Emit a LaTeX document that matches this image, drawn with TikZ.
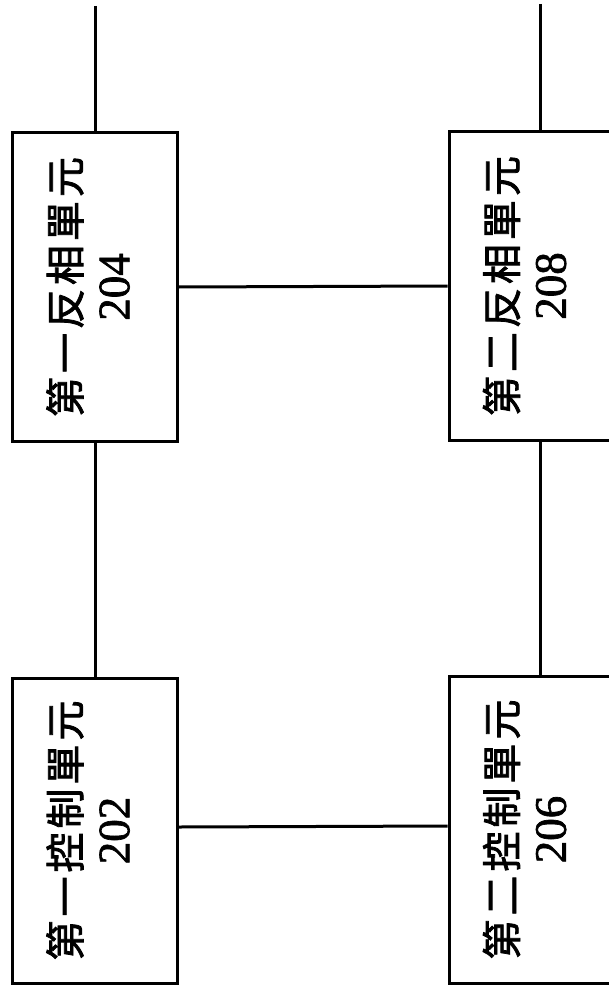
\documentclass[tikz,border=0pt]{standalone}
\usepackage{fontspec}
\usepackage{graphicx}
\newfontfamily\numfont{Liberation Serif}[FakeBold=1.5]
\newfontfamily\cjk{Noto Sans CJK TC}[FakeBold=2]
\newcommand{\ck}{\kern4pt}
\newcommand{\unitlbl}[2]{\rotatebox{90}{\fontsize{40}{49}\selectfont\begin{tabular}{@{}c@{}}{\cjk #1}\\{\numfont\fontsize{45}{49}\selectfont #2}\end{tabular}}}
\tikzset{
  unitbox/.style={draw, line width=3pt, minimum width=165pt, inner sep=0pt},
  wire/.style={line width=3pt}
}
\begin{document}
\begin{tikzpicture}[x=1pt,y=-1pt]
\useasboundingbox (0,0) rectangle (609,992);
\clip (0,0) rectangle (609,992);
\node[unitbox, minimum height=308pt] (b204) at (95,287) {\unitlbl{第\ck 一\ck 反\ck 相\ck 單\ck 元}{204}};
\node[unitbox, minimum height=305pt] (b202) at (95,830.5) {\unitlbl{第\ck 一\ck 控\ck 制\ck 單\ck 元}{202}};
\node[unitbox, minimum height=308pt] (b208) at (531.5,286) {\unitlbl{第\ck 二\ck 反\ck 相\ck 單\ck 元}{208}};
\node[unitbox, minimum height=307pt] (b206) at (531.5,829.5) {\unitlbl{第\ck 二\ck 控\ck 制\ck 單\ck 元}{206}};
\coordinate (t1) at (95,6);
\coordinate (t2) at (540,4);
\draw[wire] (t1) -- (b204.north);
\draw[wire] (b204.south) -- (b202.north);
\draw[wire] (t2) -- (t2 |- b208.north);
\draw[wire] ([xshift=8.5pt]b208.south) -- ([xshift=8.5pt]b206.north);
\draw[wire] (b204.east) -- (b208.west);
\draw[wire] ([yshift=3.5pt]b202.east) -- ([yshift=3.5pt]b206.west);
\end{tikzpicture}
\end{document}
